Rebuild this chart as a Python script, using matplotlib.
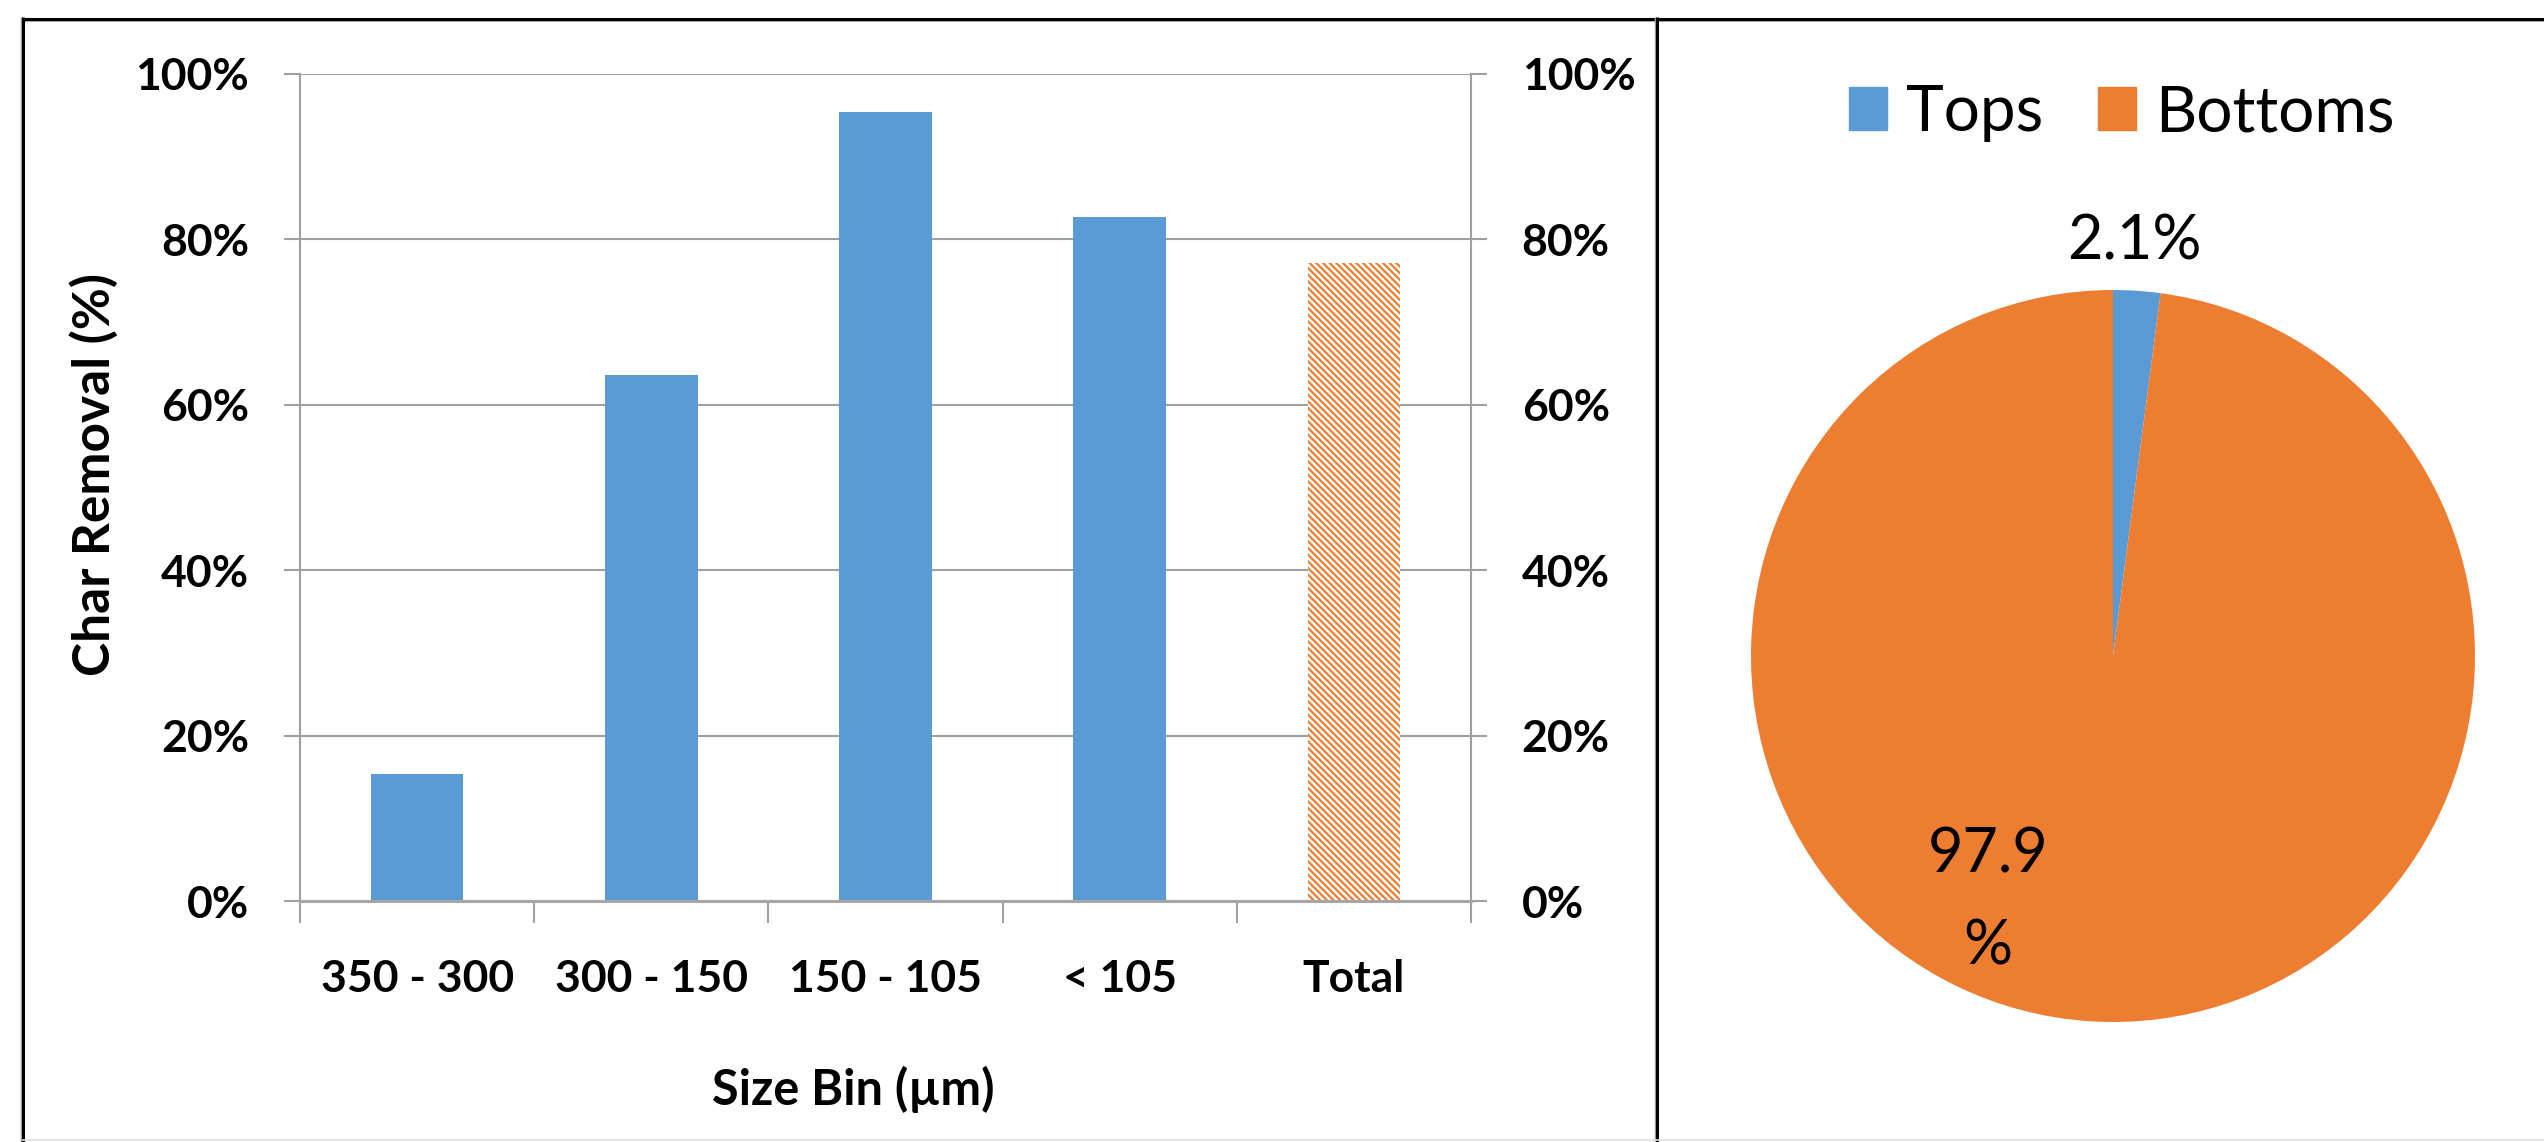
import numpy as np
import matplotlib
matplotlib.use("Agg")
import matplotlib.pyplot as plt
from matplotlib.lines import Line2D
from matplotlib.patches import Patch
from matplotlib.ticker import FuncFormatter

# ---- data -------------------------------------------------------------
size_bins = ["350 - 300", "300 - 150", "150 - 105", "< 105", "Total"]
char_removal = [15.4, 63.6, 95.4, 82.7, 77.1]   # percent
y_ticks = [0, 20, 40, 60, 80, 100]

fractions = ["Tops", "Bottoms"]
fraction_share = [2.1, 97.9]                      # percent

# ---- styling ------------------------------------------------------------
BLUE = "#5B9BD5"
ORANGE = "#ED7D31"
GRID = "#a0a0a0"
FONT = ["Lato", "DejaVu Sans"]
TICK_SIZE = 32

plt.rcParams["hatch.linewidth"] = 1.6

W, H = 2544, 1142
fig = plt.figure(figsize=(W / 100, H / 100), dpi=100)
fig.patch.set_facecolor("white")


def fx(px):
    return px / W


def fy(py):
    return 1 - py / H


# ---- bar chart ----------------------------------------------------------
ax = fig.add_axes([fx(300), fy(901), fx(1471) - fx(300), fy(74) - fy(901)])
x = np.arange(len(size_bins))
bar_w = 0.395
ax.bar(x[:-1], char_removal[:-1], width=bar_w, color=BLUE, zorder=3)
ax.bar(x[-1], char_removal[-1], width=bar_w, facecolor="white",
       edgecolor=ORANGE, linewidth=0, hatch="\\" * 5, zorder=3)

ax.set_xlim(-0.5, len(size_bins) - 0.5)
ax.set_ylim(0, 100)
ax.set_yticks(y_ticks)
ax.yaxis.set_major_formatter(FuncFormatter(lambda v, _: f"{v:.0f}%"))
ax.yaxis.grid(True, color=GRID, linewidth=1.5, zorder=0)
ax.set_axisbelow(True)

ax.set_xticks(x)
ax.set_xticklabels(size_bins)
ax.set_xticks(np.arange(-0.5, len(size_bins)), minor=True)
ax.tick_params(axis="x", which="major", length=0, pad=42)
ax.tick_params(axis="x", which="minor", length=16, width=1.5,
               color=GRID, direction="out")
ax.tick_params(axis="y", which="major", left=True, right=True,
               labelleft=True, labelright=True, length=11.5, width=1.5,
               color=GRID, pad=25)

for lab in ax.get_xticklabels():
    lab.set_fontfamily(FONT)
    lab.set_fontweight("bold")
    lab.set_fontsize(TICK_SIZE)
for t in ax.yaxis.get_major_ticks():
    for lab in (t.label1, t.label2):
        lab.set_fontfamily(FONT)
        lab.set_fontweight("bold")
        lab.set_fontsize(TICK_SIZE)

ax.spines["top"].set_visible(False)
for side in ("left", "right"):
    ax.spines[side].set_color(GRID)
    ax.spines[side].set_linewidth(1.5)
ax.spines["bottom"].set_color("#a6a6a6")
ax.spines["bottom"].set_linewidth(2.2)
ax.spines["bottom"].set_zorder(4)

fig.text(fx(94), fy(475), "Char Removal (%)", rotation=90, ha="center",
         va="center", fontsize=37, fontweight="bold", family=FONT)
fig.text(fx(853), fy(1089), "Size Bin (µm)", ha="center", va="center",
         fontsize=35, fontweight="bold", family=FONT)

# ---- pie chart ----------------------------------------------------------
cx, cy, rx, ry = 2113, 656, 362, 366
pax = fig.add_axes([fx(cx - rx), fy(cy + ry), 2 * rx / W, 2 * ry / H])
pax.pie(fraction_share, colors=[BLUE, ORANGE], startangle=90,
        counterclock=False, radius=1, wedgeprops=dict(linewidth=0))
pax.set_xlim(-1, 1)
pax.set_ylim(-1, 1)
pax.set_aspect("auto")
pax.axis("off")

pax.text((2134 - cx) / rx, (cy - 260) / ry, f"{fraction_share[0]:.1f}%",
         ha="center", va="baseline", fontsize=44, family=FONT,
         clip_on=False)
pax.text((1988 - cx) / rx, (cy - 901) / ry, f"{fraction_share[1]:.1f}\n%",
         ha="center", va="center", multialignment="center", linespacing=1.75,
         fontsize=44, family=FONT)

fig.legend(handles=[Patch(color=BLUE), Patch(color=ORANGE)], labels=fractions,
           loc="center", bbox_to_anchor=(fx(2122), fy(113)), ncol=2,
           frameon=False, prop=dict(family=FONT, size=46),
           handlelength=0.6, handleheight=0.64, handletextpad=0.3,
           columnspacing=0.85)

# ---- panel borders --------------------------------------------------------
def rule(x0, y0, x1, y1, color, lw):
    fig.add_artist(Line2D([fx(x0), fx(x1)], [fy(y0), fy(y1)],
                          transform=fig.transFigure, color=color,
                          linewidth=lw, solid_capstyle="butt"))


rule(22, 21, W, 21, "#9a9a9a", 1.2)
rule(22, 18.5, W, 18.5, "black", 2.2)
rule(21, 17, 21, H, "#9a9a9a", 1.0)
rule(23, 17, 23, H, "black", 2.2)
rule(1655, 17, 1655, H, "#9a9a9a", 1.0)
rule(1657, 17, 1657, H, "black", 2.2)
rule(22, 1140, W, 1140, "#e0e0e0", 1.2)

fig.savefig("out.png", dpi=100, facecolor="white")
